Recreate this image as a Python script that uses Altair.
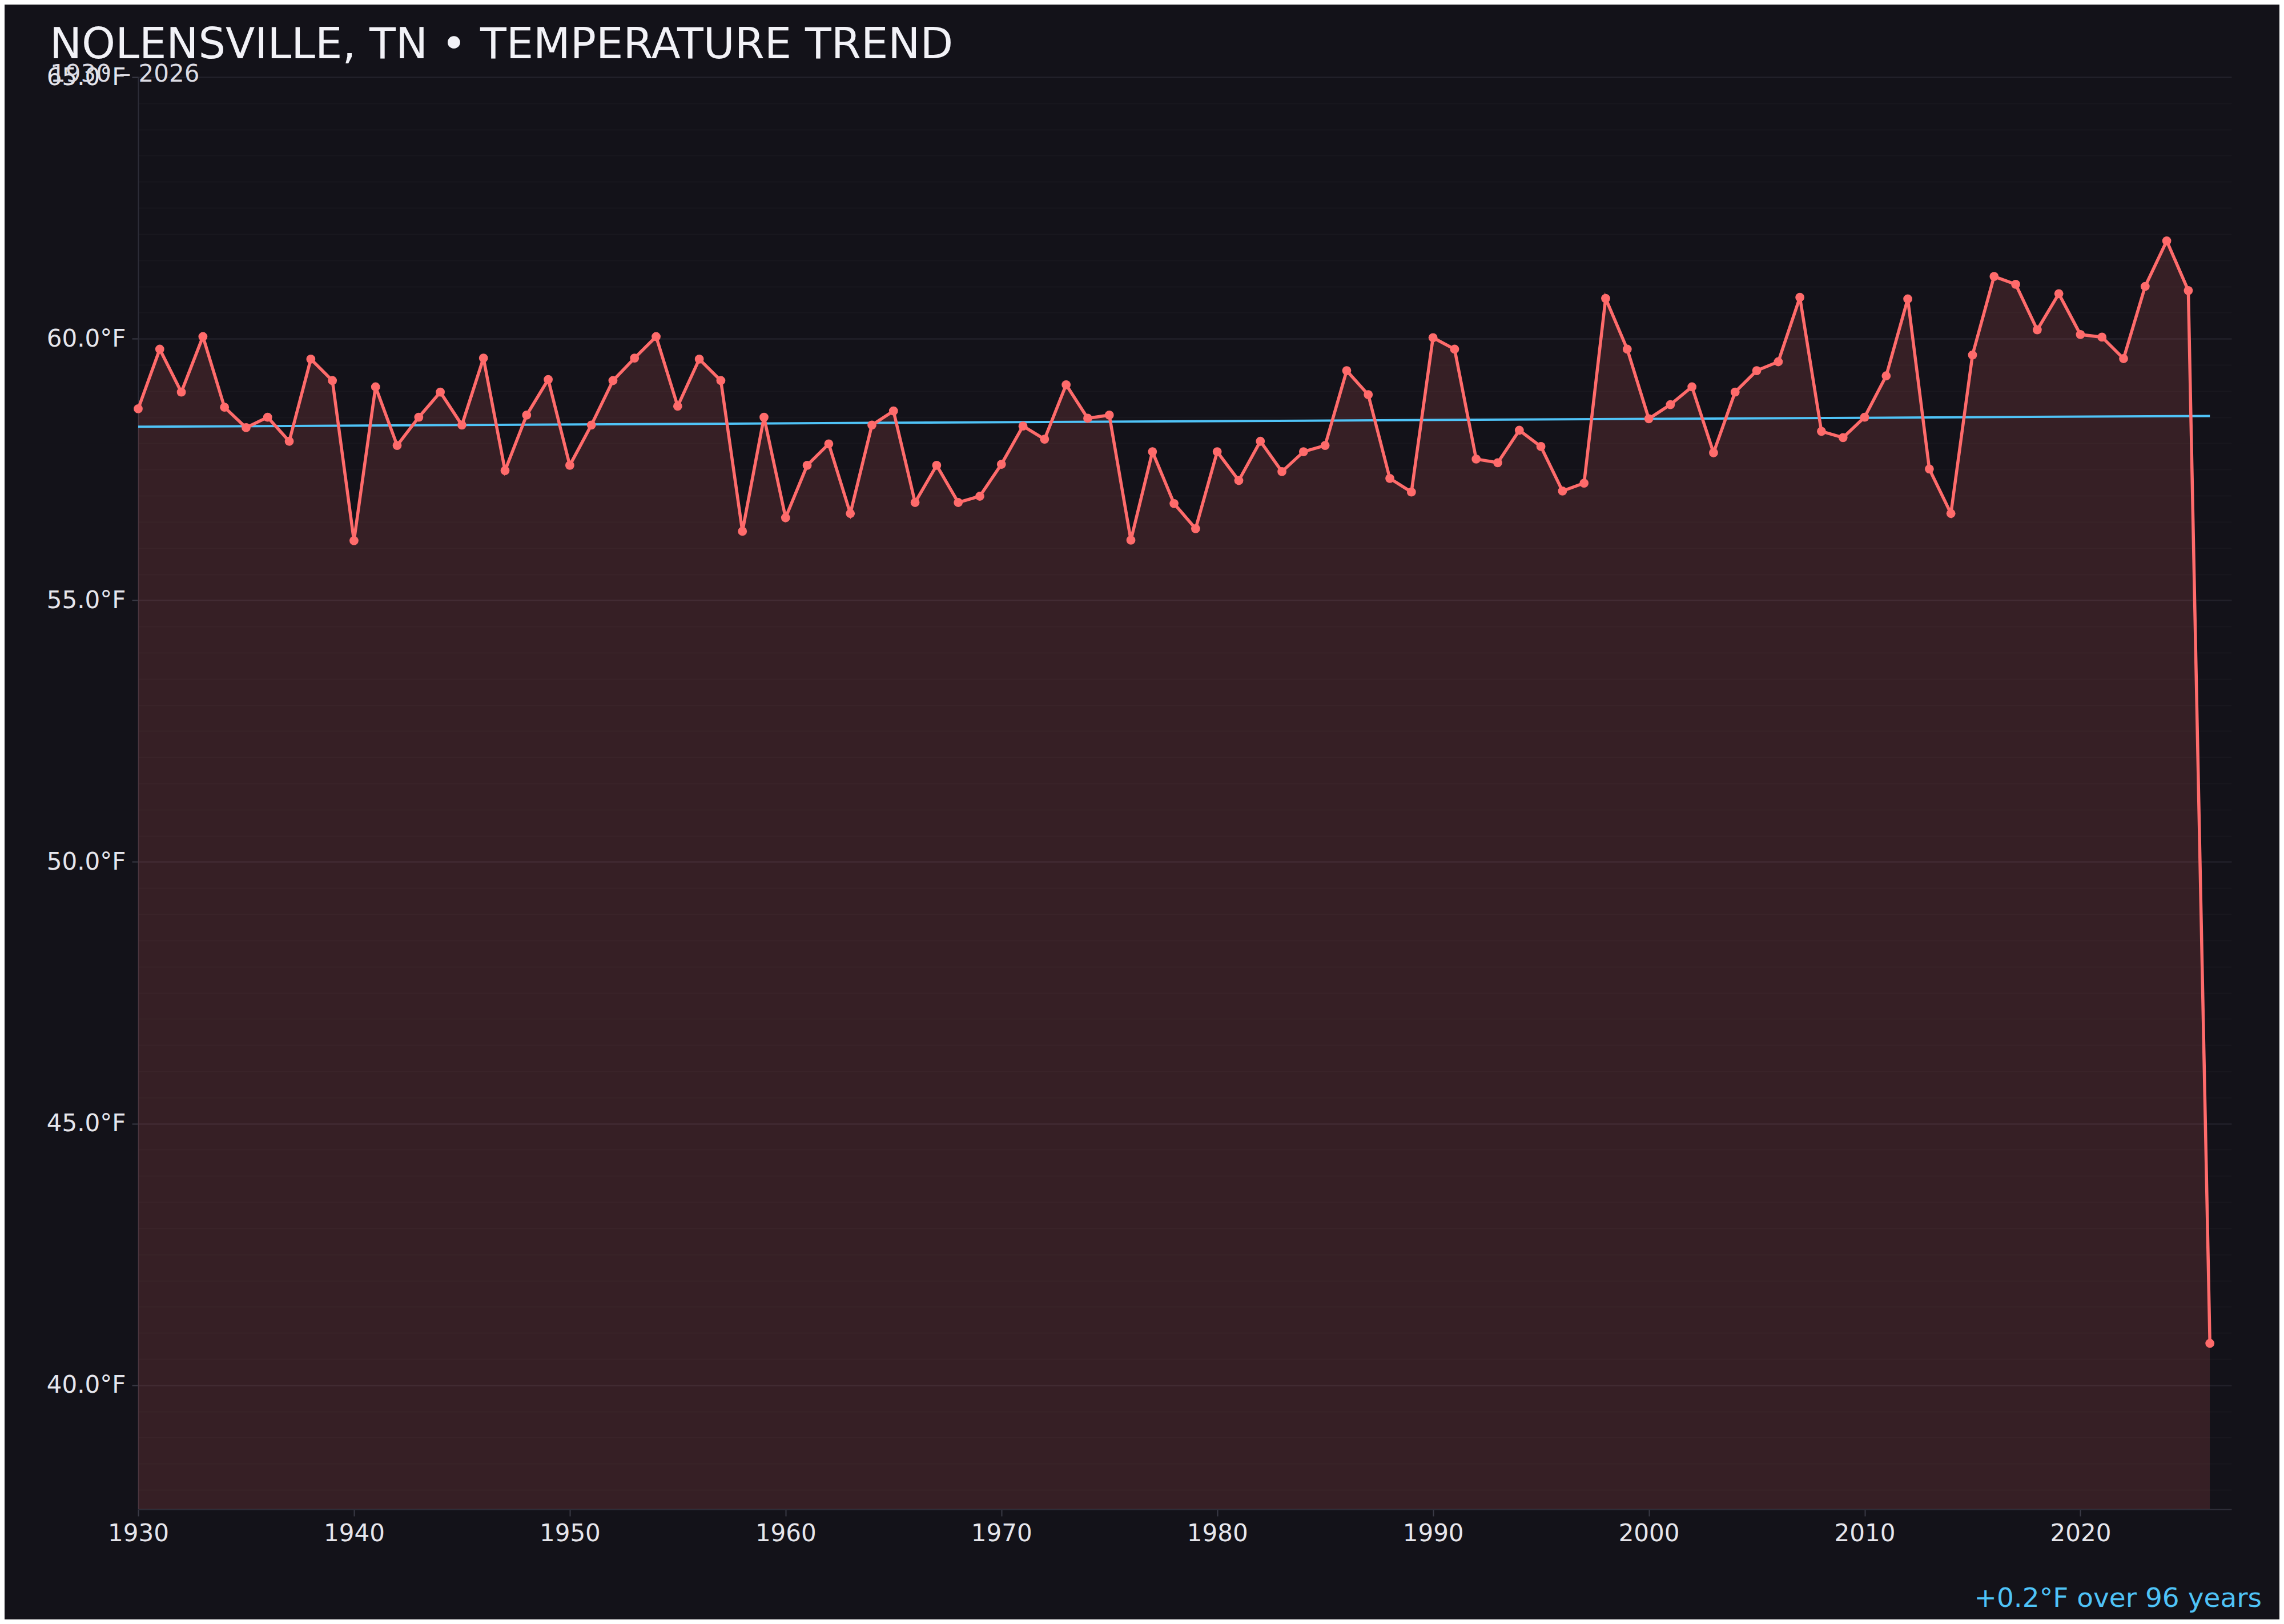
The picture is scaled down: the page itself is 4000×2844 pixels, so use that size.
import pandas as pd
import altair as alt

# annual mean temperature, Nolensville TN
years = list(range(1930, 2027))
temps = [
    58.66, 59.80, 58.98, 60.04, 58.69, 58.30, 58.50, 58.04, 59.61, 59.20,  # 1930s
    56.14, 59.08, 57.96, 58.50, 58.98, 58.35, 59.63, 57.48, 58.54, 59.22,  # 1940s
    57.58, 58.35, 59.20, 59.63, 60.04, 58.71, 59.61, 59.20, 56.32, 58.50,  # 1950s
    56.58, 57.58, 57.99, 56.66, 58.35, 58.62, 56.87, 57.58, 56.87, 56.99,  # 1960s
    57.60, 58.33, 58.08, 59.12, 58.48, 58.54, 56.15, 57.84, 56.85, 56.37,  # 1970s
    57.84, 57.29, 58.04, 57.46, 57.84, 57.96, 59.39, 58.93, 57.33, 57.07,  # 1980s
    60.02, 59.80, 57.70, 57.63, 58.25, 57.94, 57.09, 57.24, 60.77, 59.80,  # 1990s
    58.47, 58.74, 59.08, 57.82, 58.98, 59.39, 59.56, 60.79, 58.23, 58.11,  # 2000s
    58.50, 59.29, 60.76, 57.51, 56.66, 59.69, 61.19, 61.04, 60.17, 60.86,  # 2010s
    60.08, 60.03, 59.62, 61.00, 61.87, 60.92, 40.80,                       # 2020s
]
x_ticks = [1930, 1940, 1950, 1960, 1970, 1980, 1990, 2000, 2010, 2020]
y_ticks = [38.0 + 0.5 * i for i in range(55)]  # minor grid every 0.5, labels every 5

title_text = "NOLENSVILLE, TN \u2022 TEMPERATURE TREND"
subtitle_text = "1930 \u2013 2026"
trend_text = "+0.2\u00b0F over 96 years"

BG = "#131219"
RED = "#ff6b6b"
BLUE = "#4fc3f7"
W, H = 3666, 2508

df = pd.DataFrame({"year": years, "temp": temps})

major = "datum.value % 5 === 0"

x_enc = alt.X(
    "year:Q",
    title="",
    scale=alt.Scale(domain=[1930, 2027], nice=False, zero=False),
    axis=alt.Axis(
        values=x_ticks, format="d", grid=False, labelFlush=False,
        tickSize=12, labelPadding=10, labelFontSize=42, labelColor="#e6e6ec",
        domainColor="#2d2d38", domainWidth=2, tickColor="#3a3a46", tickWidth=2,
    ),
)
y_enc = alt.Y(
    "temp:Q",
    title="",
    scale=alt.Scale(domain=[37.63, 65], nice=False, zero=False),
    axis=alt.Axis(
        values=y_ticks,
        labelExpr=f"{major} ? format(datum.value, '.1f') + '\u00b0F' : ''",
        labelOverlap=False, labelFontSize=42, labelColor="#e6e6ec",
        tickSize=11, labelPadding=11, tickWidth=2, tickColor="#3a3a46",
        tickOpacity={"condition": {"test": major, "value": 1}, "value": 0},
        gridColor={"condition": {"test": major, "value": "#22212a"}, "value": "#18171e"},
        gridWidth={"condition": {"test": major, "value": 2.5}, "value": 2},
        domainColor="#2d2d38", domainWidth=2,
    ),
)

base = alt.Chart(df)

area = base.mark_area(color=RED, opacity=0.15, clip=True).encode(x=x_enc, y=y_enc)

trend = base.transform_regression("year", "temp").mark_line(
    color=BLUE, strokeWidth=4
).encode(x=x_enc, y=y_enc)

line = base.mark_line(color=RED, strokeWidth=5.5).encode(x=x_enc, y=y_enc)

points = base.mark_circle(color=RED, size=250, opacity=1).encode(x=x_enc, y=y_enc)

title = alt.Chart(pd.DataFrame({"t": [title_text]})).mark_text(
    fontSize=75, color="#f2f2f7", align="left", baseline="alphabetic"
).encode(x=alt.value(-155), y=alt.value(-33), text="t:N")

subtitle = alt.Chart(pd.DataFrame({"t": [subtitle_text]})).mark_text(
    fontSize=42, color="#dcdce4", align="left", baseline="alphabetic"
).encode(x=alt.value(-154), y=alt.value(8), text="t:N")

note = alt.Chart(pd.DataFrame({"t": [trend_text]})).mark_text(
    fontSize=47, color=BLUE, align="right", baseline="alphabetic"
).encode(x=alt.value(3719), y=alt.value(2679), text="t:N")

chart = alt.layer(area, trend, line, points, title, subtitle, note).properties(
    width=W,
    height=H,
    autosize=alt.AutoSizeParams(type="none"),
    padding={"left": 234, "top": 127, "right": 84, "bottom": 193},
    background=BG,
).configure(
    font="DejaVu Sans"
).configure_view(
    strokeWidth=0
)

chart.save("out.html", embed_options={"renderer": "svg", "actions": False})
